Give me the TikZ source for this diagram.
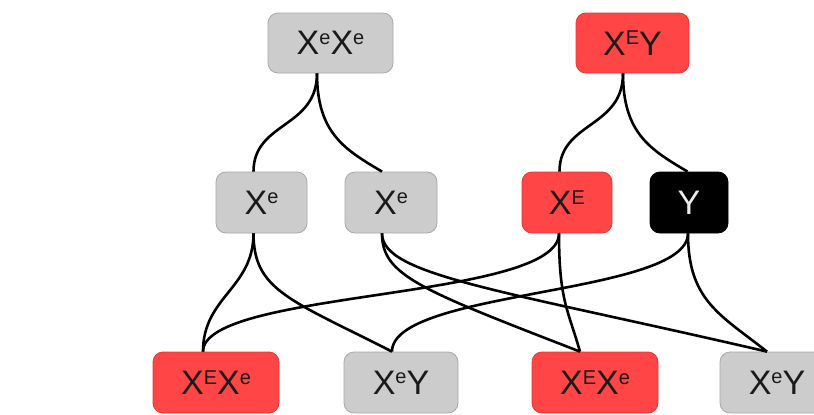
\documentclass[tikz,border=0pt]{standalone}
\usepackage{fontspec}
\setmainfont{Liberation Sans}
\definecolor{boxgrey}{HTML}{CCCCCC}
\definecolor{greyedge}{HTML}{A8A8A8}
\definecolor{boxred}{HTML}{FF4545}
\definecolor{rededge}{HTML}{E23838}
\definecolor{ink}{HTML}{1A1A1A}
% raised, smaller allele letter
\newcommand\al[1]{\raisebox{10.5pt}{\fontsize{20}{20}\selectfont #1}}
\tikzset{
  gene/.style={rounded corners=10pt, minimum height=61pt, inner sep=0pt,
    line width=0.8pt, font=\fontsize{34}{40}\selectfont},
  greybox/.style={gene, fill=boxgrey, draw=greyedge, text=ink},
  redbox/.style={gene, fill=boxred, draw=rededge, text=ink},
  blackbox/.style={gene, fill=black, draw=black, text=white!92!black},
  link/.style={line width=2.6pt, black}
}
\begin{document}
\begin{tikzpicture}[x=1pt, y=-1pt]
\useasboundingbox (0,0) rectangle (814,415);

% parents
\node[greybox, minimum width=125pt, minimum height=60pt] (t1) at (330.5,43) {X\al{e}X\al{e}};
\node[redbox,  minimum width=113pt, minimum height=60pt] (t2) at (632.5,43) {X\al{E}Y};

% gametes
\node[greybox,  minimum width=91pt] (m1) at (261.5,202.5) {X\al{e}};
\node[greybox,  minimum width=92pt] (m2) at (391,202.5) {X\al{e}};
\node[redbox,   minimum width=90pt] (m3) at (567,202.5) {X\al{E}};
\node[blackbox, minimum width=78pt] (m4) at (689,202.5) {Y};

% offspring
\node[redbox,  minimum width=126pt] (b1) at (216,382.5) {X\al{E}X\al{e}};
\node[greybox, minimum width=114pt] (b2) at (401,382.5) {X\al{e}Y};
\node[redbox,  minimum width=126pt] (b3) at (595,382.5) {X\al{E}X\al{e}};
\node[greybox, minimum width=114pt] (b4) at (777,382.5) {X\al{e}Y};

% parents to gametes
\draw[link] ([xshift=-13.5pt]t1.south) .. controls +(0,55) and +(0,-50) .. ([xshift=-8pt]m1.north);
\draw[link] ([xshift=-13.5pt]t1.south) .. controls +(0,60) and +(-37,-22) .. ([xshift=-9pt]m2.north);
\draw[link] ([xshift=-9.5pt]t2.south) .. controls +(0,55) and +(0,-50) .. ([xshift=-7.5pt]m3.north);
\draw[link] ([xshift=-9.5pt]t2.south) .. controls +(0,60) and +(-37,-22) .. ([xshift=-1.5pt]m4.north);

% gametes to offspring
\draw[link] ([xshift=-8pt]m1.south) .. controls +(0,55) and +(0,-55) .. ([xshift=-13pt]b1.north);
\draw[link] ([xshift=-8pt]m1.south) .. controls +(0,57) and +(-102,-52) .. ([xshift=-9pt]b2.north);
\draw[link] ([xshift=-9pt]m2.south) .. controls +(0,42) and +(-160,-62) .. ([xshift=-15pt]b3.north);
\draw[link] ([xshift=-9pt]m2.south) .. controls +(0,42) and +(-267,-62) .. ([xshift=-10pt]b4.north);
\draw[link] ([xshift=-8pt]m3.south) .. controls +(0,67) and +(0,-62) .. ([xshift=-13pt]b1.north);
\draw[link] ([xshift=-8pt]m3.south) .. controls +(0,67) and +(-12,-42) .. ([xshift=-15pt]b3.north);
\draw[link] ([xshift=-1pt]m4.south) .. controls +(0,62) and +(0,-62) .. ([xshift=-9pt]b2.north);
\draw[link] ([xshift=-1pt]m4.south) .. controls +(0,67) and +(-47,-37) .. ([xshift=-10pt]b4.north);
\end{tikzpicture}
\end{document}
